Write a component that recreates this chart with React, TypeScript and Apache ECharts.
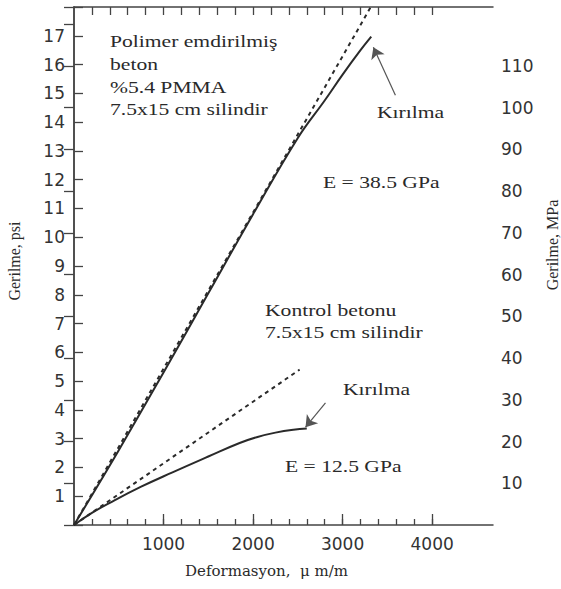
import React, { useEffect, useRef } from "react";
import * as echarts from "echarts";

// strain (μm/m) and stress (ksi, left axis labelled "psi")
const strainPolymer = [0, 500, 1000, 1500, 2000, 2500, 2800, 3000, 3200, 3320];
const stressPolymer = [0, 2.6, 5.3, 8.05, 10.8, 13.45, 14.75, 15.65, 16.5, 16.97];
const strainPolymerTangent = [0, 3315];
const stressPolymerTangent = [0, 18];
const strainControl = [0, 200, 400, 750, 1100, 1500, 1850, 2050, 2250, 2450, 2600];
const stressControl = [0, 0.42, 0.77, 1.33, 1.83, 2.38, 2.85, 3.06, 3.21, 3.31, 3.35];
const strainControlTangent = [0, 2520];
const stressControlTangent = [0, 5.4];

// arrows: [tailX, tailY, tipX, tipY] in data units
const arrowPolymer = [3590, 14.93, 3344, 16.6];
const arrowControl = [2809, 4.24, 2586, 3.4];

const xMinorTicks = [200, 400, 600, 800, 1000, 1200, 1400, 1600, 1800, 2000, 2200, 2400, 2600, 2800, 3000, 3200, 3400, 3600, 3800, 4000];
const xMajorTicks = [1000, 2000, 3000, 4000];
const X_MAX = 4680;
const PSI_MAX = 18;
const KSI_TO_MPA = 6.895;

const pair = (xs: number[], ys: number[]) => xs.map((x, i) => [x, ys[i]]);

const SERIF = "Liberation Serif";
const SANS = "DejaVu Sans";
const INK = "#2a2a2a";

function annot(text: string, x: number, y: number) {
  return {
    type: "text",
    x,
    y,
    scaleX: 1.35,
    silent: true,
    style: {
      text,
      fontFamily: SERIF,
      fontSize: 16,
      fill: INK,
      textAlign: "left",
      textVerticalAlign: "middle",
    },
  };
}

export default function App() {
  const ref = useRef<HTMLDivElement>(null);
  useEffect(() => {
    if (!ref.current) return;
    const chart = echarts.init(ref.current, undefined, { renderer: "svg" });
    const axisLine = { show: true, lineStyle: { color: "#444", width: 1.5 } };
    const arrowLine = (a: number[]) => [
      { coord: [a[0], a[1]], symbol: "none" },
      { coord: [a[2], a[3]], symbol: "arrow" },
    ];
    chart.setOption({
      animation: false,
      backgroundColor: "#fff",
      grid: { left: 74, right: 68, top: 7, bottom: 64, containLabel: false, outerBoundsMode: "none" },
      xAxis: [
        {
          type: "value",
          position: "bottom",
          min: 0,
          max: X_MAX,
          axisLine,
          splitLine: { show: false },
          axisTick: { show: true, inside: true, length: 6, customValues: xMinorTicks, lineStyle: { color: "#444", width: 1.3 } },
          axisLabel: {
            customValues: xMajorTicks,
            fontSize: 17,
            fontFamily: SANS,
            color: "#333",
            margin: 10,
            formatter: (v: number) => String(v),
          },
          name: "Deformasyon,  μ m/m",
          nameLocation: "middle",
          nameGap: 38,
          nameTextStyle: { fontFamily: "DejaVu Serif", fontSize: 15, color: INK, padding: [0, 34, 0, 0] },
        },
        {
          type: "value",
          position: "bottom",
          min: 0,
          max: X_MAX,
          axisLine: { show: false },
          splitLine: { show: false },
          axisTick: { show: true, inside: true, length: 11, customValues: xMajorTicks, lineStyle: { color: "#444", width: 1.3 } },
          axisLabel: { show: false },
        },
        {
          type: "value",
          position: "top",
          min: 0,
          max: X_MAX,
          axisLine,
          splitLine: { show: false },
          axisTick: { show: true, inside: true, length: 8, customValues: xMinorTicks, lineStyle: { color: "#444", width: 1.3 } },
          axisLabel: { show: false },
        },
      ],
      yAxis: [
        {
          type: "value",
          position: "left",
          min: 0,
          max: PSI_MAX,
          interval: 1,
          axisLine,
          splitLine: { show: false },
          axisTick: { show: true, inside: true, length: 9, lineStyle: { color: "#444", width: 1.3 } },
          axisLabel: {
            fontSize: 17,
            fontFamily: SANS,
            color: "#333",
            margin: 9,
            formatter: (v: number) => (v >= 1 && v <= 17 ? String(v) : ""),
          },
          name: "Gerilme, psi",
          nameLocation: "middle",
          nameRotate: 90,
          nameGap: 52,
          nameTextStyle: { fontFamily: SERIF, fontSize: 16, color: INK, padding: [0, 0, 0, 10] },
        },
        {
          type: "value",
          position: "right",
          min: 0,
          max: PSI_MAX * KSI_TO_MPA,
          interval: 10,
          axisLine,
          splitLine: { show: false },
          axisTick: { show: true, inside: true, length: 10, lineStyle: { color: "#444", width: 1.3 } },
          axisLabel: {
            fontSize: 17,
            fontFamily: SANS,
            color: "#333",
            margin: 8,
            formatter: (v: number) => (v >= 10 && v <= 110 ? String(v) : ""),
          },
          name: "Gerilme, MPa",
          nameLocation: "middle",
          nameRotate: 90,
          nameGap: 48,
          nameTextStyle: { fontFamily: SERIF, fontSize: 16, color: INK, padding: [0, 0, 0, 42] },
        },
      ],
      series: [
        {
          type: "line",
          name: "Polimer emdirilmiş beton",
          data: pair(strainPolymer, stressPolymer),
          showSymbol: false,
          smooth: 0.4,
          lineStyle: { color: INK, width: 2 },
          silent: true,
          markLine: {
            silent: true,
            symbolSize: 11,
            label: { show: false },
            lineStyle: { color: "#555", width: 1.2, type: "solid" },
            data: [arrowLine(arrowPolymer), arrowLine(arrowControl)],
          },
        },
        {
          type: "line",
          name: "Polimer tangent",
          data: pair(strainPolymerTangent, stressPolymerTangent),
          showSymbol: false,
          lineStyle: { color: INK, width: 2, type: [4, 4] },
          silent: true,
        },
        {
          type: "line",
          name: "Kontrol betonu",
          data: pair(strainControl, stressControl),
          showSymbol: false,
          smooth: 0.45,
          lineStyle: { color: INK, width: 2 },
          silent: true,
        },
        {
          type: "line",
          name: "Kontrol tangent",
          data: pair(strainControlTangent, stressControlTangent),
          showSymbol: false,
          lineStyle: { color: INK, width: 2, type: [4, 4] },
          silent: true,
        },
      ],
      graphic: [
        annot("Polimer emdirilmiş", 110, 42),
        annot("beton", 110, 65),
        annot("%5.4 PMMA", 110, 88),
        annot("7.5x15 cm silindir", 110, 110),
        annot("Kırılma", 377, 113),
        annot("E = 38.5 GPa", 323, 183),
        annot("Kontrol betonu", 265, 311),
        annot("7.5x15 cm silindir", 265, 333),
        annot("Kırılma", 343, 390),
        annot("E = 12.5 GPa", 285, 467),
      ],
    });
    return () => chart.dispose();
  }, []);
  return (
    <div
      ref={ref}
      style={{ position: "fixed", left: 0, top: 0, width: 561, height: 589, background: "#fff" }}
    />
  );
}
